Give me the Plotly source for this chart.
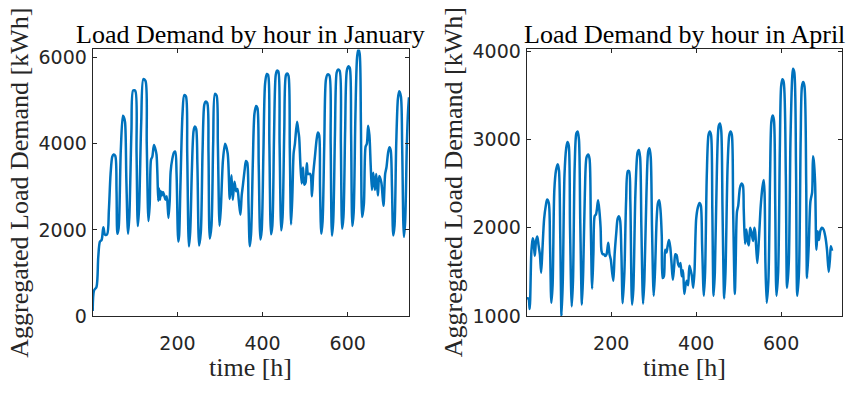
import plotly.graph_objects as go

# ---------------- data ----------------
jan_hours = [1, 4, 10, 14, 18, 22, 26, 30, 35,
             39, 43, 47, 50, 54, 57, 59, 62,
             67, 72, 74, 77, 80, 84, 87,
             92, 96, 101, 104, 107, 110,
             115, 120, 125, 128, 132, 135,
             138, 141, 145, 149, 151, 153, 155, 157, 159, 161, 163, 166, 169, 172, 175, 179, 182,
             184, 188, 192, 195, 198, 202, 204, 207,
             212, 216, 220, 223, 227, 230, 234,
             238, 241, 244, 247, 251, 255, 259,
             263, 266, 270, 273, 276, 280, 284,
             288, 292, 295, 299, 302, 307, 312, 318,
             323, 327, 330, 334, 338, 341, 344, 348, 351, 354, 358, 361, 364, 367, 370, 373,
             377, 381, 385, 388, 391, 395, 398,
             402, 406, 410, 413, 416, 420, 423,
             427, 431, 434, 437, 440, 444, 447,
             451, 455, 458, 461, 464, 467, 470, 473, 476, 481, 484, 486, 489,
             492, 495, 498, 501, 504, 507, 512, 516, 519, 523, 527, 530, 533, 535, 538, 541,
             545, 549, 553, 557, 560, 563, 566,
             570, 574, 577, 581, 584, 587, 590,
             594, 598, 602, 605, 608, 611, 614,
             618, 622, 625, 628, 631, 634, 638,
             642, 645, 648, 651, 654, 657, 660, 664, 667, 671, 674, 679, 684, 688, 691, 695, 698, 701, 704, 707, 710,
             714, 718, 721, 725, 728, 732, 735,
             739, 742, 744]
jan_load = [120, 590, 680, 1360, 1730, 1770, 2060, 1890, 1900,
            2460, 3300, 3700, 3750, 3720, 2900, 1910, 2050,
            3850, 4650, 4620, 4500, 3200, 1910, 2300,
            4300, 5240, 5230, 3800, 2090, 2500,
            4500, 5500, 5460, 4000, 2210, 2600,
            3630, 3700, 3970, 3850, 3740, 3300, 2680, 2960, 2700, 2900, 2800, 2880, 2800, 2700, 2780, 2280, 2700,
            3340, 3650, 3800, 3820, 3300, 1730, 1870, 3000,
            4700, 5130, 5100, 3800, 1620, 1950, 3400,
            4300, 4400, 4350, 3500, 1640, 1950, 3800,
            4900, 4980, 4950, 3800, 1800, 2100, 4000,
            5160, 5120, 4000, 2100, 2500, 3620, 4000, 3780,
            2720, 3270, 2700, 3120, 2900, 2950, 2700, 2350, 2800, 3050, 3400, 3600, 3560, 2600, 1620, 1900,
            3500, 4700, 4880, 4830, 3500, 1780, 2000,
            3800, 5400, 5620, 5600, 4000, 1900, 2100,
            4200, 5600, 5700, 5680, 4000, 1990, 2300,
            4300, 5600, 5630, 5580, 3900, 2130, 2800, 3780, 4000, 4510, 4300, 4150, 3500,
            3080, 3450, 3050, 3100, 3550, 3300, 3300, 2780, 3300, 3700, 4100, 4260, 4200, 3000, 1910, 2200,
            4000, 5500, 5610, 5590, 4000, 1870, 2200,
            4200, 5650, 5720, 5700, 4000, 2030, 2300,
            4300, 5700, 5800, 5760, 4200, 2090, 2400,
            4600, 6000, 6190, 6100, 4500, 2300, 2600,
            3930, 4000, 4420, 4200, 3500, 2930, 3330, 2930, 3300, 2800, 3250, 3100, 2560, 3300, 3450, 3800, 3920, 3850, 3000, 1870, 2100,
            4000, 5050, 5220, 5100, 3900, 1840, 2200,
            4000, 4800, 5080]

apr_hours = [1, 5, 8, 12, 15, 17, 20, 23, 26, 29, 32, 35, 38,
             42, 46, 49, 53, 56, 59, 62,
             66, 70, 74, 77, 80, 83, 86,
             90, 94, 97, 100, 103, 107, 110,
             114, 118, 121, 124, 127, 131, 134,
             138, 142, 146, 149, 152, 155, 158, 161, 164, 166, 169, 172, 175, 177,
             180, 183, 186, 189, 193, 196, 199, 202, 205, 208,
             212, 215, 218, 221, 224, 227, 231,
             235, 239, 242, 245, 249, 252,
             257, 262, 265, 268, 271, 275, 278,
             283, 287, 290, 293, 296, 300, 303,
             307, 310, 313, 316, 319, 321, 324, 327, 330, 333, 336, 339, 342, 345, 348, 351, 354, 357,
             360, 363, 366, 369, 372, 375, 378, 381, 384, 387, 390, 393, 396,
             400, 404, 408, 411, 414, 418, 421,
             425, 429, 432, 435, 438, 441, 444,
             449, 453, 456, 459, 462, 466, 469,
             474, 478, 481, 484, 487, 491, 493, 496, 499, 503, 507, 510, 512, 515, 518, 521, 524, 527, 530, 534, 537, 539, 541, 544,
             548, 552, 556, 559, 561, 563, 566,
             570, 574, 577, 580, 583, 586, 589,
             593, 597, 600, 603, 606, 611, 614,
             618, 622, 626, 628, 631, 635, 638,
             642, 646, 649, 652, 655, 659, 661, 665, 669, 673, 675, 677, 680, 683, 686, 689, 692, 696, 700, 704, 708, 712, 715, 717, 720]
apr_load = [1200, 1200, 1080, 1730, 1880, 1850, 1680, 1850, 1900, 1800, 1700, 1490, 1750,
            2100, 2250, 2320, 2280, 1800, 1150, 1350,
            2420, 2650, 2720, 2650, 1900, 1000, 1400,
            2600, 2900, 2970, 2930, 2000, 1110, 1400,
            2700, 3070, 3090, 3000, 2100, 1130, 1500,
            2400, 2800, 2830, 2780, 2000, 1310, 1700, 2130, 2150, 2200, 2310, 2200, 2000, 1740,
            1700, 1700, 1680, 1700, 1830, 1700, 1640, 1500, 1400, 1700,
            1950, 2100, 2130, 2080, 1700, 1146, 1500,
            2300, 2640, 2640, 2300, 1130, 1300,
            2400, 2850, 2880, 2800, 2000, 1140, 1400,
            2400, 2860, 2900, 2800, 2000, 1230, 1500,
            2100, 2280, 2310, 2200, 1900, 1430, 1450, 1750, 1720, 1800, 1860, 1780, 1600, 1410, 1550, 1700, 1690, 1600,
            1560, 1600, 1450, 1520, 1250, 1350, 1400, 1350, 1570, 1520, 1450, 1320, 1500,
            2100, 2230, 2280, 2250, 1800, 1230, 1500,
            2600, 3050, 3090, 3050, 2200, 1230, 1500,
            2700, 3150, 3180, 3100, 2200, 1200, 1500,
            2700, 3050, 3090, 3050, 2200, 1250, 1600, 2180, 2250, 2450, 2500, 2480, 2200, 1820, 1980, 1850, 1800, 2000, 1950, 1850, 2000, 1950, 1800, 1600, 1900,
            2250, 2460, 2540, 2400, 1600, 1150, 1400,
            2600, 3200, 3270, 3220, 2300, 1230, 1500,
            2900, 3600, 3680, 3650, 2600, 1320, 1600,
            3000, 3700, 3800, 3760, 2700, 1230, 1500,
            3000, 3600, 3650, 3600, 2500, 1430, 1800, 2300, 2400, 2810, 2750, 2500, 1750, 1960, 1860, 1960, 2000, 1980, 1900, 1750, 1500, 1650, 1790, 1740, 1770]

jan_yticks = [0, 2000, 4000, 6000]
apr_yticks = [1000, 2000, 3000, 4000]
x_ticks = [200, 400, 600]

titles = ["Load Demand by hour in January", "Load Demand by hour in April"]
x_label = "time [h]"
y_label = "Aggregated Load Demand [kWh]"

# ---------------- figure ----------------
W, H = 854, 394
LINE = "#0072BD"
AXC = "#262626"
SERIF = "Liberation Serif, Times New Roman, serif"
SANS = "DejaVu Sans, Liberation Sans, Arial, sans-serif"

fig = go.Figure()
fig.add_trace(go.Scatter(x=jan_hours, y=jan_load, mode="lines",
                         line=dict(color=LINE, width=2.5, shape="spline", smoothing=0.8),
                         xaxis="x", yaxis="y", showlegend=False))
fig.add_trace(go.Scatter(x=apr_hours, y=apr_load, mode="lines",
                         line=dict(color=LINE, width=2.5, shape="spline", smoothing=0.8),
                         xaxis="x2", yaxis="y2", showlegend=False))

def px_x(p):
    return p / W

def px_y(p):
    return 1 - p / H

ax_common = dict(showline=True, linecolor=AXC, linewidth=1, mirror="ticks",
                 ticks="inside", ticklen=4, tickwidth=1, tickcolor=AXC,
                 showgrid=False, zeroline=False,
                 tickfont=dict(family=SANS, size=19, color=AXC))

L1, R1 = 92.7, 409.0
L2, R2 = 526.7, 842.3
T, B = 41.7, 323.3

fig.update_layout(
    width=W, height=H,
    margin=dict(l=0, r=0, t=0, b=0),
    paper_bgcolor="white", plot_bgcolor="white",
    xaxis=dict(domain=[px_x(L1), px_x(R1)], range=[1, 744], tickvals=x_ticks,
               anchor="y", ticklabelstandoff=10, **ax_common),
    yaxis=dict(domain=[px_y(B), px_y(T)], range=[0, 6190], tickvals=jan_yticks,
               anchor="x", ticklabelstandoff=1, **ax_common),
    xaxis2=dict(domain=[px_x(L2), px_x(R2)], range=[1, 744], tickvals=x_ticks,
                anchor="y2", ticklabelstandoff=10, **ax_common),
    yaxis2=dict(domain=[px_y(B), px_y(T)], range=[1000, 4018], tickvals=apr_yticks,
                anchor="x2", ticklabelstandoff=1, **ax_common),
)

ann = []
centers = [(L1 + R1) / 2, (L2 + R2) / 2]
ylab_x = [20, 453.5]
for i in range(2):
    ann.append(dict(text=titles[i], x=px_x(centers[i]), y=px_y(25.5), xref="paper", yref="paper",
                    xanchor="center", yanchor="middle", showarrow=False,
                    font=dict(family=SERIF, size=26, color="black")))
    ann.append(dict(text=x_label, x=px_x(centers[i]), y=px_y(377.5), xref="paper", yref="paper",
                    xanchor="center", yanchor="middle", showarrow=False,
                    font=dict(family=SERIF, size=26, color=AXC)))
    ann.append(dict(text=y_label, x=px_x(ylab_x[i]), y=px_y((T + B) / 2), xref="paper", yref="paper",
                    xanchor="center", yanchor="middle", showarrow=False, textangle=-90,
                    font=dict(family=SERIF, size=26, color=AXC)))
fig.update_layout(annotations=ann)

fig.write_html("out.html")
